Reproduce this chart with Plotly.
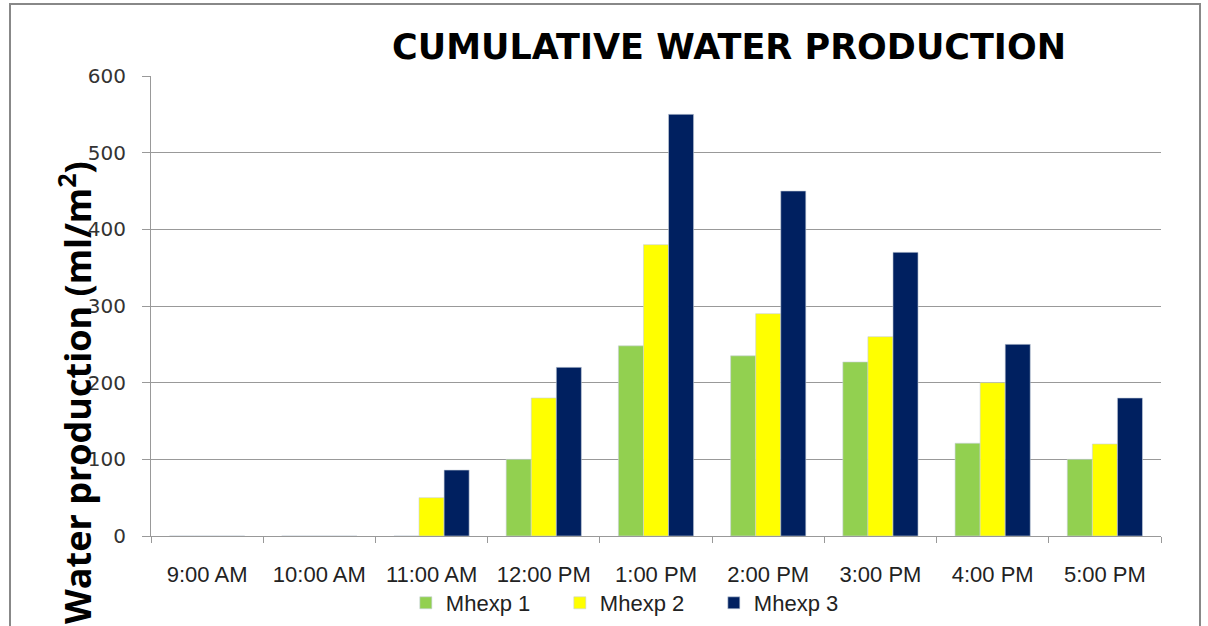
import plotly.graph_objects as go

categories = ["9:00 AM", "10:00 AM", "11:00 AM", "12:00 PM", "1:00 PM",
              "2:00 PM", "3:00 PM", "4:00 PM", "5:00 PM"]
mhexp1 = [0, 0, 0, 100, 248, 235, 227, 121, 100]
mhexp2 = [0, 0, 50, 180, 380, 290, 260, 200, 120]
mhexp3 = [0, 0, 86, 220, 550, 450, 370, 250, 180]
series_names = ["Mhexp 1", "Mhexp 2", "Mhexp 3"]
colors = ["#92D050", "#FFFF00", "#002060"]

fig = go.Figure()
for name, vals, col in zip(series_names, [mhexp1, mhexp2, mhexp3], colors):
    fig.add_trace(go.Bar(
        x=categories, y=vals, name=name,
        marker=dict(color=col, line=dict(color="#C8D0DC", width=0.6)),
    ))

L, R, T, B = 151, 47, 76, 90
W, H = 1208, 626
pw, ph = W - L - R, H - T - B

def px_x(p):
    return (p - L) / pw

def px_y(p):
    return (H - B - p) / ph

fig.update_layout(
    width=W, height=H,
    margin=dict(l=L, r=R, t=T, b=B, autoexpand=False),
    paper_bgcolor="white", plot_bgcolor="white",
    barmode="group", bargap=0.33, bargroupgap=0,
    title=dict(text="<b>CUMULATIVE WATER PRODUCTION</b>",
               x=px_x(729), xanchor="center", xref="paper",
               y=1 - 47 / H, yanchor="middle",
               font=dict(family="DejaVu Sans", size=35, color="black")),
    showlegend=True,
    legend=dict(orientation="h", x=px_x(423) - 0.017, xanchor="left",
                y=px_y(603), yanchor="middle",
                font=dict(family="Liberation Sans", size=22, color="#222"),
                entrywidth=109, entrywidthmode="pixels", traceorder="normal"),
    xaxis=dict(
        type="category", tickson="boundaries", ticks="outside", ticklen=6,
        tickcolor="#999", showline=True, linecolor="#999", linewidth=1.2,
        showgrid=False, ticklabelstandoff=18,
        tickfont=dict(family="Liberation Sans", size=22, color="#222"),
    ),
    yaxis=dict(
        range=[0, 600], dtick=100, ticks="outside", ticklen=8, tickcolor="#999",
        showline=True, linecolor="#999", linewidth=1.2,
        showgrid=True, gridcolor="#999", gridwidth=1.2,
        ticklabelstandoff=12,
        tickfont=dict(family="DejaVu Sans", size=20, color="#333"),
        zeroline=False,
    ),
    annotations=[dict(
        text="<b>Water production (ml/m<sup>2</sup>)</b>",
        xref="paper", yref="paper", x=px_x(75), y=px_y(393),
        xanchor="center", yanchor="middle", textangle=-90, showarrow=False,
        font=dict(family="Open Sans", size=36, color="black"),
    )],
    shapes=[dict(
        type="rect", xref="paper", yref="paper",
        x0=px_x(10), x1=px_x(1200), y0=px_y(640), y1=px_y(4),
        line=dict(color="#888", width=2), fillcolor="rgba(0,0,0,0)", layer="below",
    )],
)

fig.write_html("out.html", config={"displayModeBar": False},
               post_script="document.body.style.margin='0';document.body.style.padding='0';")
